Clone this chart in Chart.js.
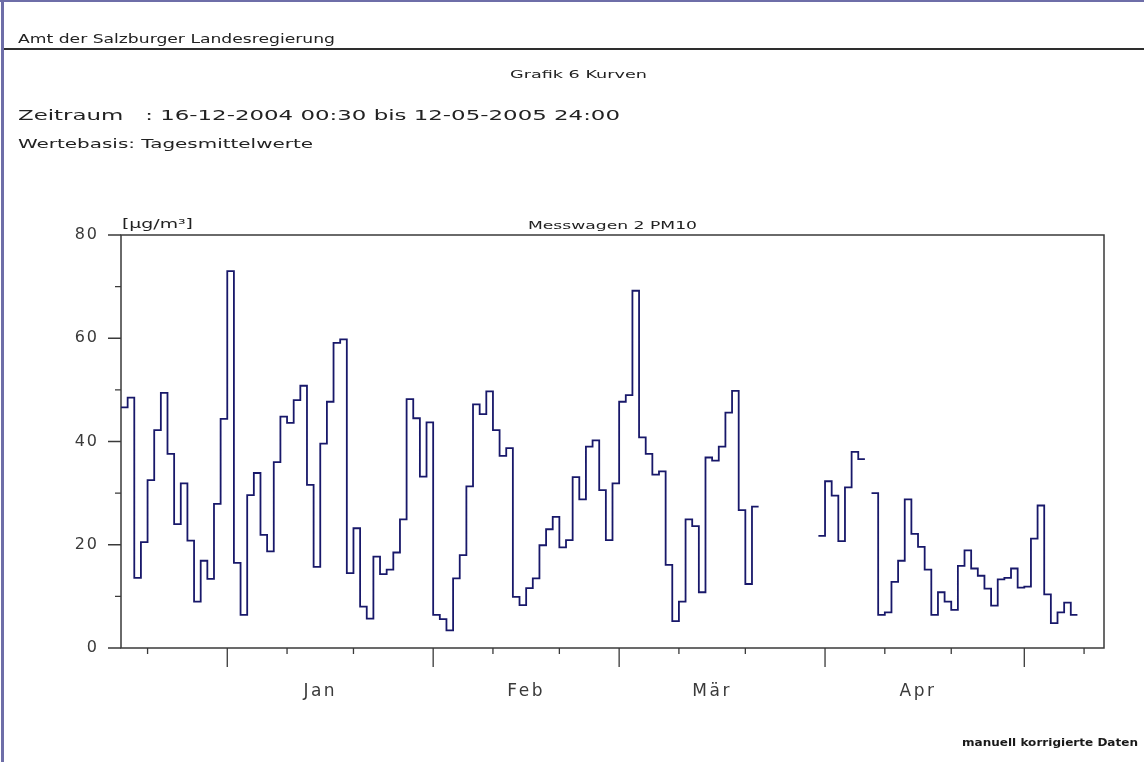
<!DOCTYPE html>
<html lang="de">
<head>
<meta charset="utf-8">
<title>Messwagen 2 PM10</title>
<script src="https://cdn.jsdelivr.net/npm/chart.js@4/dist/chart.umd.min.js"></script>
<style>
  html, body { margin: 0; padding: 0; background: #fff; }
  #page { position: relative; width: 1144px; height: 762px; overflow: hidden; background: #fff;
          font-family: 'DejaVu Sans', sans-serif; color: #222; }
  #c { position: absolute; left: 0; top: 0; }
  .edge-top  { position: absolute; left: 0; top: 0; width: 1144px; height: 2px; background: #6e6ea8; }
  .edge-left { position: absolute; left: 1px; top: 0; width: 3px; height: 762px; background: #6e6ea8; }
  .rule      { position: absolute; left: 4px; top: 48px; width: 1140px; height: 1.5px; background: #2e2e2e; }
  .t { position: absolute; white-space: pre; line-height: 1; transform-origin: 0 0; }
</style>
</head>
<body>
<div id="page">
  <canvas id="c" width="1144" height="762"></canvas>
  <div class="edge-top"></div>
  <div class="edge-left"></div>
  <div class="rule"></div>

  <div class="t" data-w="317" style="left:18px;top:33px;font-size:12.5px">Amt der Salzburger Landesregierung</div>
  <div class="t" data-w="137" style="left:510px;top:69px;font-size:11px">Grafik 6 Kurven</div>
  <div class="t" data-w="602" style="left:18px;top:108px;font-size:14px">Zeitraum   : 16-12-2004 00:30 bis 12-05-2005 24:00</div>
  <div class="t" data-w="295" style="left:18px;top:137px;font-size:13px">Wertebasis: Tagesmittelwerte</div>
  <div class="t" data-w="71"  style="left:122px;top:218px;font-size:12px">[µg/m³]</div>
  <div class="t" data-w="169" style="left:528px;top:220px;font-size:11px">Messwagen 2 PM10</div>
  <div class="t" data-w="176" style="left:962px;top:737px;font-size:11px;font-weight:bold;color:#1a1a1a">manuell korrigierte Daten</div>
</div>

<script>
// Tagesmittelwerte PM10 [µg/m³], one value per day starting 16.12.2004 (null = no data)
const startDate = [2004, 11, 16];
const pm10 = [
  46.6, 48.5, 13.6, 20.5, 32.5, 42.2, 49.4, 37.6, 24.0, 31.9,   // 16.12. - 25.12.
  20.8,  9.0, 16.9, 13.4, 27.9, 44.4, 73.0, 16.5,  6.4, 29.6,   // 26.12. - 04.01.
  33.9, 21.9, 18.7, 36.0, 44.8, 43.6, 48.0, 50.8, 31.6, 15.7,   // 05.01. - 14.01.
  39.6, 47.7, 59.1, 59.8, 14.5, 23.2,  8.0,  5.7, 17.7, 14.3,   // 15.01. - 24.01.
  15.2, 18.5, 24.9, 48.2, 44.5, 33.2, 43.7,  6.4,  5.6,  3.4,   // 25.01. - 03.02.
  13.5, 18.0, 31.3, 47.2, 45.3, 49.7, 42.2, 37.2, 38.7,  9.9,   // 04.02. - 13.02.
   8.3, 11.6, 13.5, 19.9, 23.0, 25.4, 19.5, 20.9, 33.1, 28.8,   // 14.02. - 23.02.
  39.0, 40.2, 30.6, 20.9, 31.9, 47.7, 49.0, 69.2, 40.8, 37.6,   // 24.02. - 05.03.
  33.6, 34.2, 16.1,  5.2,  9.0, 24.9, 23.6, 10.8, 36.9, 36.3,   // 06.03. - 15.03.
  39.0, 45.6, 49.8, 26.7, 12.4, 27.4, null, null, null, null,   // 16.03. - 25.03.
  null, null, null, null, null, 21.7, 32.3, 29.5, 20.7, 31.1,   // 26.03. - 04.04.
  38.0, 36.6, null, 30.0,  6.4,  6.9, 12.8, 16.9, 28.8, 22.1,   // 05.04. - 14.04.
  19.6, 15.2,  6.4, 10.8,  9.0,  7.4, 15.9, 18.9, 15.4, 14.0,   // 15.04. - 24.04.
  11.5,  8.2, 13.3, 13.6, 15.4, 11.7, 11.9, 21.2, 27.6, 10.4,   // 25.04. - 04.05.
   4.8,  6.9,  8.8,  6.4, null, null, null, null                // 05.05. - 12.05.
];

// axis definitions
const monthNames   = ['Jan', 'Feb', 'Mär', 'Apr'];
const monthNumbers = [0, 1, 2, 3];          // months of 2005 carrying a label
const monthStarts  = [[2005,0,1],[2005,1,1],[2005,2,1],[2005,3,1],[2005,4,1]];
const minorDays    = [10, 20];               // small ticks on these days of each month
const yTicks       = [0, 10, 20, 30, 40, 50, 60, 70, 80];
const yLabelStep   = 20;

const DAY = 864e5;
const t0 = Date.UTC(...startDate);
const dayIndex = (y, m, d) => (Date.UTC(y, m, d) - t0) / DAY;
const totalDays = pm10.length;

// step series: each daily mean is held for the full day
const points = [];
pm10.forEach((v, i) => {
  if (v === null) return;
  points.push({ x: i, y: v });
  const next = pm10[i + 1];
  if (next === null || next === undefined) {
    points.push({ x: i + 1, y: v });
    if (next === null) points.push({ x: i + 1, y: null });
  }
});

const labelDays = monthNumbers.map(m => dayIndex(2005, m, 15));
const majorDays = monthStarts.map(d => dayIndex(...d));
const minorTickDays = [];
[[2004,11],[2005,0],[2005,1],[2005,2],[2005,3],[2005,4]].forEach(([y, m]) => {
  minorDays.forEach(d => {
    const k = dayIndex(y, m, d);
    if (k > 0 && k < totalDays) minorTickDays.push(k);
  });
});

Chart.defaults.font.family = "'DejaVu Sans', sans-serif";

// wide plotter-style lettering for the axis labels
function spaceLabels(scale, spacing) {
  if (scale._spaced) return;
  const draw = scale.drawLabels.bind(scale);
  scale.drawLabels = function (area) {
    const c = this.ctx;
    c.save();
    c.letterSpacing = spacing;
    draw(area);
    c.restore();
  };
  scale._spaced = true;
}

// frame and tick marks of the plot
const axisDecor = {
  id: 'axisDecor',
  beforeDatasetsDraw(chart) {
    const { ctx, chartArea: { left, right, top, bottom }, scales: { x, y } } = chart;
    ctx.save();
    ctx.strokeStyle = '#3a3a3a';
    ctx.lineWidth = 1.5;
    ctx.strokeRect(left, top, right - left, bottom - top);
    ctx.lineWidth = 1.3;
    ctx.beginPath();
    yTicks.forEach(v => {
      const py = y.getPixelForValue(v);
      const len = v % yLabelStep === 0 ? 13 : 6;
      ctx.moveTo(left - len, py); ctx.lineTo(left, py);
    });
    majorDays.forEach(d => {
      const px = x.getPixelForValue(d);
      ctx.moveTo(px, bottom); ctx.lineTo(px, bottom + 19);
    });
    minorTickDays.forEach(d => {
      const px = x.getPixelForValue(d);
      ctx.moveTo(px, bottom); ctx.lineTo(px, bottom + 6);
    });
    ctx.stroke();
    ctx.restore();
  },
  afterLayout(chart) {
    spaceLabels(chart.scales.x, '2.5px');
    spaceLabels(chart.scales.y, '2px');
  }
};

new Chart(document.getElementById('c'), {
  type: 'line',
  data: {
    datasets: [{
      label: 'Messwagen 2 PM10',
      data: points,
      borderColor: '#18186a',
      borderWidth: 1.8,
      pointRadius: 0,
      stepped: true,
      spanGaps: false,
      fill: false
    }]
  },
  options: {
    responsive: false,
    animation: false,
    events: [],
    layout: { padding: { top: 235, right: 40, left: 0, bottom: 0 } },
    plugins: { legend: { display: false }, tooltip: { enabled: false } },
    scales: {
      x: {
        type: 'linear',
        min: 0,
        max: totalDays,
        grid: { display: false },
        border: { display: false },
        afterBuildTicks: s => { s.ticks = labelDays.map(v => ({ value: v })); },
        afterFit: s => { s.height = 762 - 648; },
        ticks: {
          autoSkip: false,
          maxRotation: 0,
          padding: 25,
          color: '#3a3a3a',
          font: { size: 17 },
          callback: (v, i) => monthNames[i]
        }
      },
      y: {
        min: 0,
        max: 80,
        grid: { display: false },
        border: { display: false },
        afterBuildTicks: s => { s.ticks = yTicks.filter(v => v % yLabelStep === 0).map(v => ({ value: v })); },
        afterFit: s => { s.width = 121; },
        ticks: {
          padding: 14,
          color: '#3a3a3a',
          font: { size: 16 }
        }
      }
    }
  },
  plugins: [axisDecor]
});

// stretch the header texts to their line widths
function fitTexts() {
  document.querySelectorAll('.t[data-w]').forEach(el => {
    el.style.transform = 'none';
    const w = el.getBoundingClientRect().width;
    const target = parseFloat(el.dataset.w);
    if (w > 0) el.style.transform = 'scaleX(' + (target / w).toFixed(4) + ')';
  });
}
fitTexts();
if (document.fonts && document.fonts.ready) document.fonts.ready.then(fitTexts);
</script>
</body>
</html>
